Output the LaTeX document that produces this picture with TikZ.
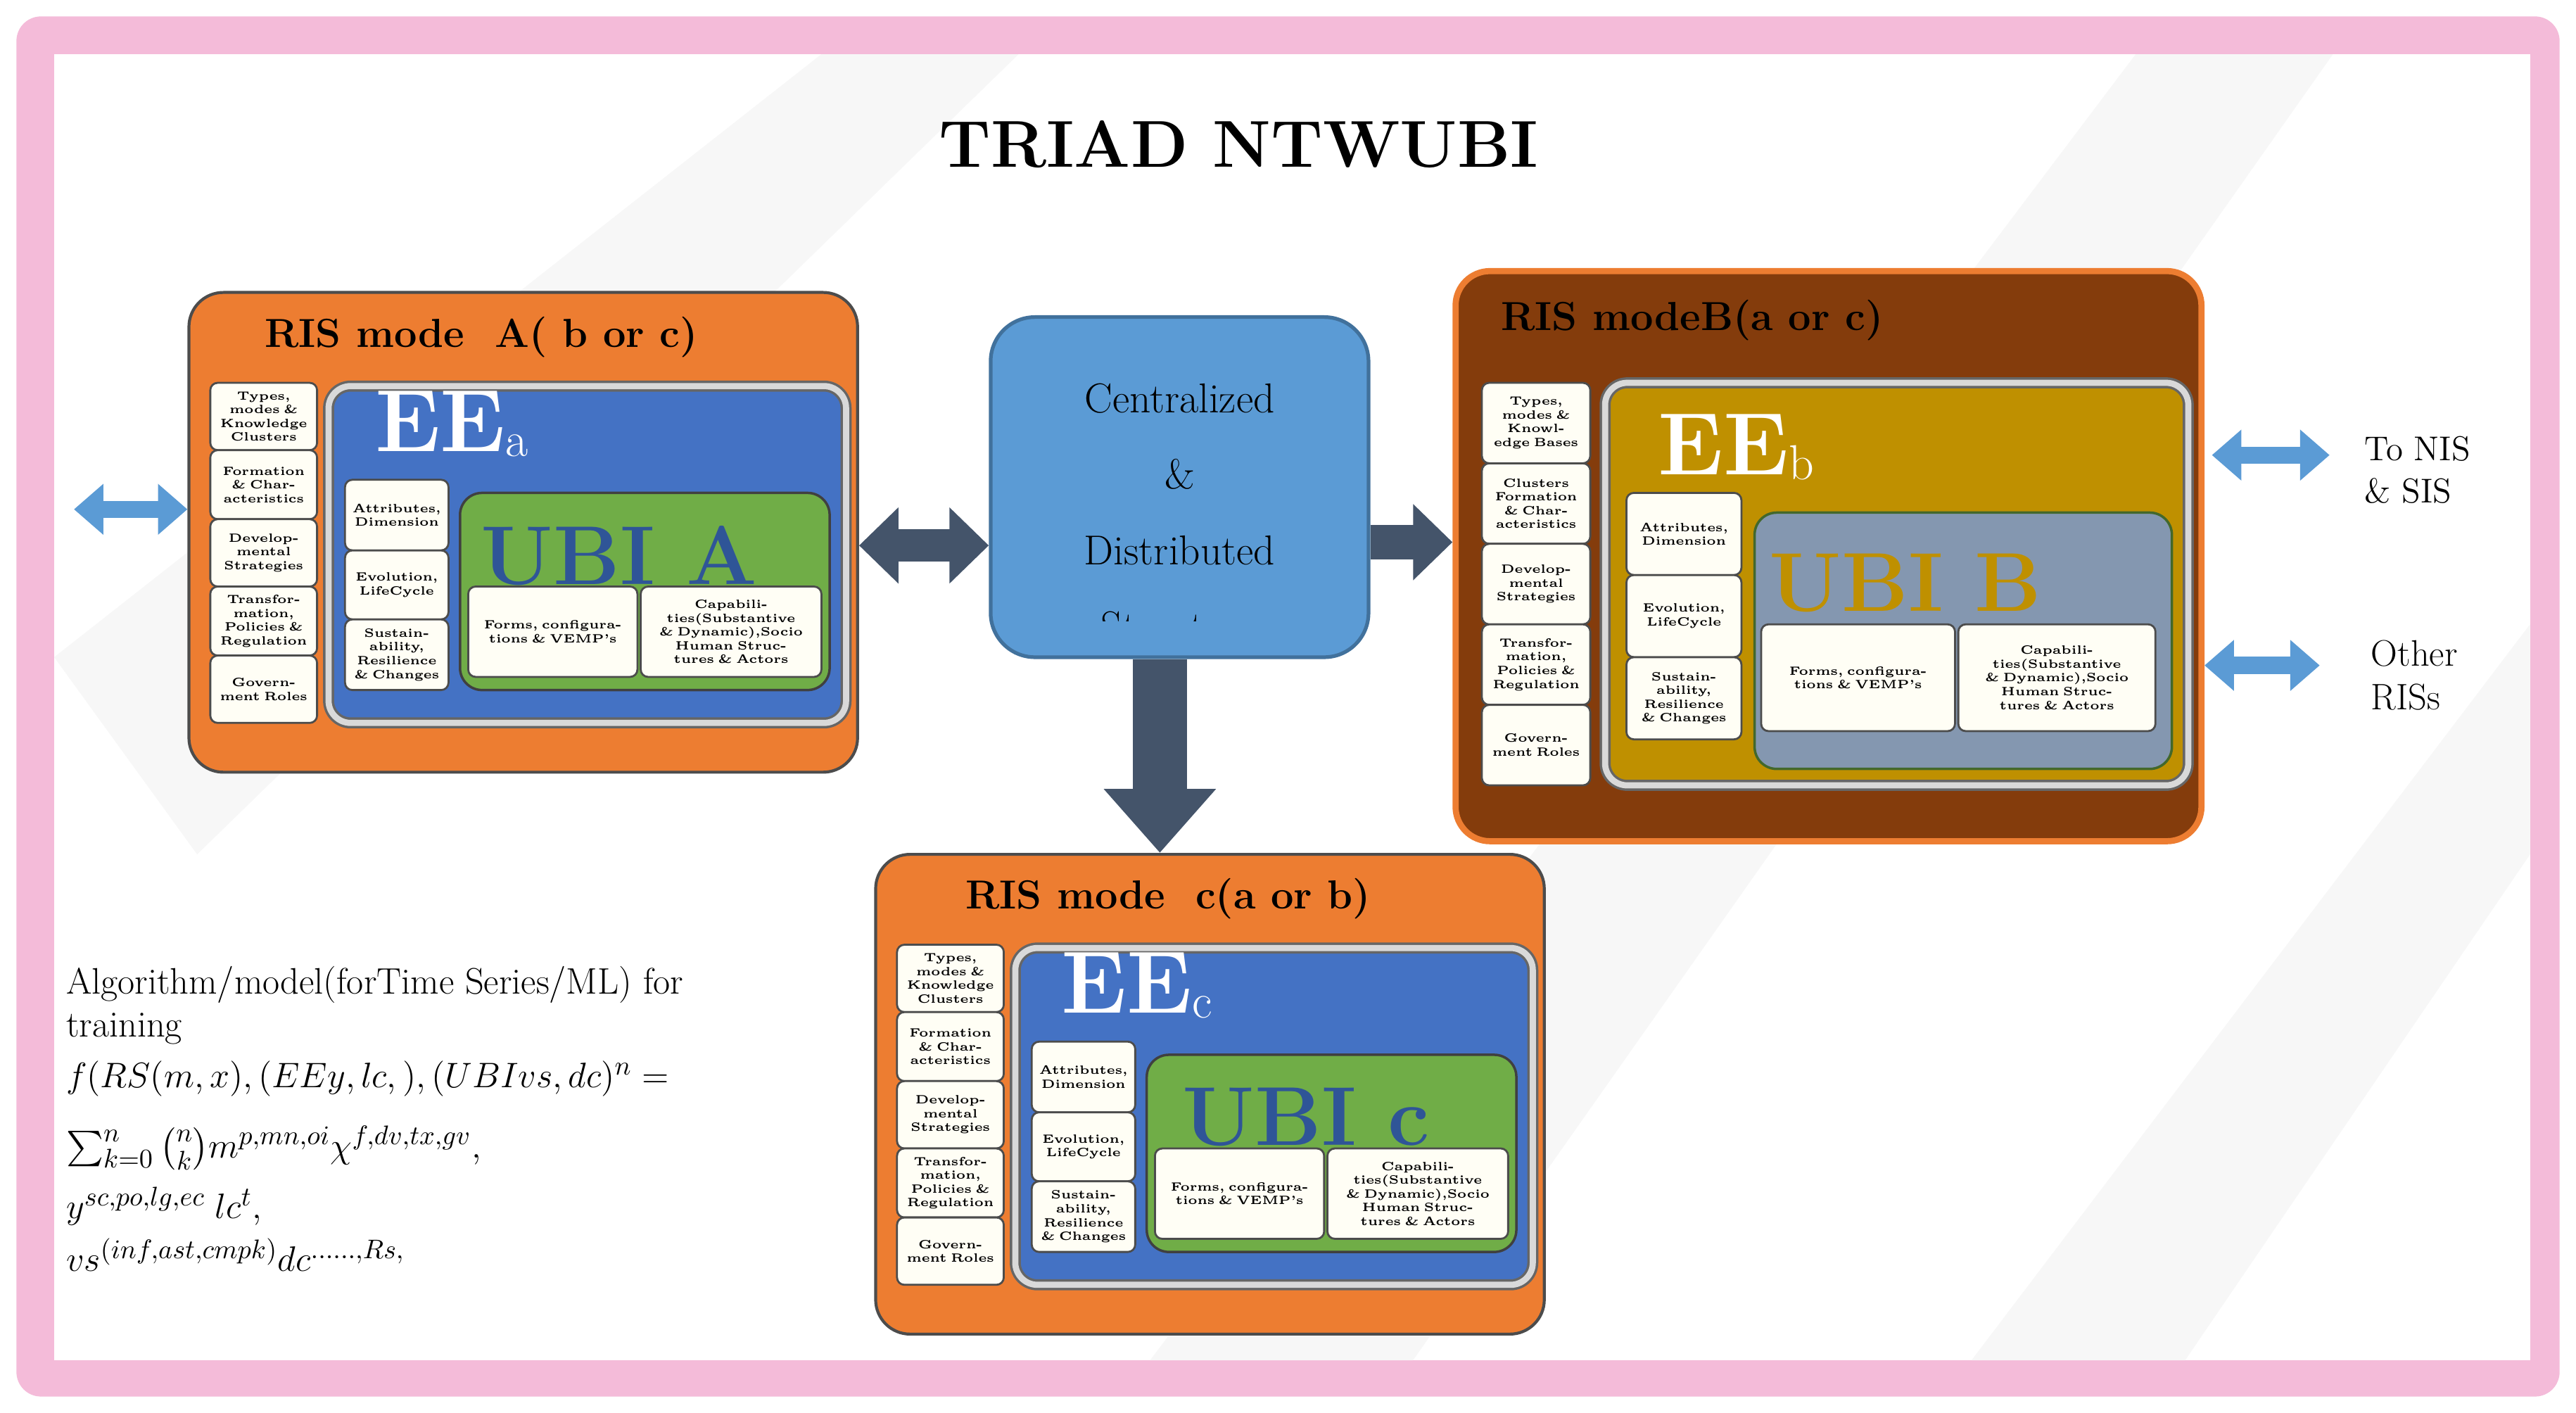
\documentclass[tikz,border=0pt]{standalone}
\usepackage{amsmath}
\usetikzlibrary{arrows.meta}
\definecolor{pinkf}{HTML}{F4BBD9}
\definecolor{orangef}{HTML}{ED7D31}
\definecolor{brownf}{HTML}{843C0C}
\definecolor{bluef}{HTML}{4472C4}
\definecolor{greenf}{HTML}{70AD47}
\definecolor{goldf}{HTML}{BF9000}
\definecolor{grayblue}{HTML}{8497B0}
\definecolor{ubiblue}{HTML}{2F5597}
\definecolor{darkarrow}{HTML}{44546A}
\definecolor{lightarrow}{HTML}{5B9BD5}
\definecolor{cenfill}{HTML}{5B9BD5}
\definecolor{cenborder}{HTML}{41719C}
\newcommand\mybox[7]{\node[#6, minimum width={(#4-#2)*0.0235cm}, minimum height={(#5-#3)*0.0235cm}, inner sep=0pt] (#1) at ({(#2+#4)/2},{(#3+#5)/2}) {\hspace{0pt}#7};}
\tikzset{
  outerA/.style={draw=black!70, line width=1.2pt, fill=orangef, rounded corners=14pt},
  outerB/.style={draw=orangef, line width=2.5pt, fill=brownf, rounded corners=14pt},
  eebox/.style={draw=black!60, line width=1pt, double=black!15, double distance=2.5pt, rounded corners=9pt},
  ubibox/.style={draw=black!75, line width=1pt, rounded corners=9pt},
  sbox/.style={draw=black!70, line width=0.8pt, fill=white!96!yellow, rounded corners=3pt, align=center, text width=38pt, font=\fontsize{4.9}{5.6}\selectfont\bfseries},
  mbox/.style={sbox, text width=40pt},
  wbox/.style={sbox, text width=64pt},
  titlef/.style={font=\fontsize{16.5}{20}\selectfont\bfseries, text=black},
  eef/.style={font=\fontsize{36}{36}\selectfont\bfseries, text=white},
  ubif/.style={font=\fontsize{34}{34}\selectfont\bfseries},
  darrow/.style={draw=darkarrow, line width=13pt},
  larrow/.style={draw=lightarrow, line width=7pt},
}
\newcommand\risAC[6]{%
\begin{scope}[shift={(#2,#3)}]
 \mybox{#1}{0}{0}{407}{292}{outerA}{}
 \node[titlef] (#1t) at (178,27) {#4};
 \mybox{#1l1}{13}{55}{78}{96}{sbox}{Types, modes \& Knowledge Clusters}
 \mybox{#1l2}{13}{96}{78}{138}{sbox}{Formation \& Characteristics}
 \mybox{#1l3}{13}{138}{78}{179}{sbox}{Developmental Strategies}
 \mybox{#1l4}{13}{179}{78}{221}{sbox}{Transformation, Policies \& Regulation}
 \mybox{#1l5}{13}{221}{78}{262}{sbox}{Government Roles}
 \mybox{#1e}{85}{57}{400}{262}{eebox, fill=bluef}{}
 \node[eef, anchor=west] (#1el) at (108,80) {EE\textmd{\fontsize{20}{20}\selectfont\raisebox{-2pt}{#5}}};
 \mybox{#1m1}{95}{114}{158}{157}{mbox}{Attributes, Dimension}
 \mybox{#1m2}{95}{157}{158}{199}{mbox}{Evolution, LifeCycle}
 \mybox{#1m3}{95}{199}{158}{242}{mbox}{Sustainability, Resilience \& Changes}
 \mybox{#1u}{165}{122}{390}{242}{ubibox, fill=greenf}{}
 \node[ubif, text=ubiblue] (#1ul) at (262,160) {#6};
 \mybox{#1w1}{170}{179}{273}{234}{wbox}{Forms, configurations \& VEMP's}
 \mybox{#1w2}{275}{179}{385}{234}{wbox}{Capabilities(Substantive \& Dynamic),Socio Human Structures \& Actors}
\end{scope}}
\begin{document}
\begin{tikzpicture}[x=0.0235cm, y=-0.0235cm]
\useasboundingbox (0,0) rectangle (1568,860);
\fill[white] (0,0) rectangle (1568,860);
\fill[pinkf, rounded corners=10pt] (10,10) rectangle (1558,850);
\fill[white] (33,33) rectangle (1540,828);
\fill[black!3] (33,400) -- (500,33) -- (620,33) -- (120,520) -- cycle;
\fill[black!3] (700,828) -- (1300,33) -- (1420,33) -- (860,828) -- cycle;
\fill[black!3] (1200,828) -- (1540,380) -- (1540,520) -- (1330,828) -- cycle;

\node[font=\fontsize{27}{30}\selectfont\bfseries] (title) at (754,88) {TRIAD NTWUBI};

% RIS A and C
\risAC{A}{115}{178}{RIS mode\ \ A( b or c)}{a}{UBI A}
\risAC{C}{533}{520}{RIS mode\ \ c(a or b)}{c}{UBI c}

% RIS B
\begin{scope}[shift={(886,165)}]
 \mybox{B}{0}{0}{454}{347}{outerB}{}
 \node[titlef] (Bt) at (144,30) {RIS modeB(a or c)};
 \mybox{Bl1}{16}{68}{82}{117}{sbox}{Types, modes \& Knowledge Bases}
 \mybox{Bl2}{16}{117}{82}{166}{sbox}{Clusters Formation \& Characteristics}
 \mybox{Bl3}{16}{166}{82}{215}{sbox}{Developmental Strategies}
 \mybox{Bl4}{16}{215}{82}{264}{sbox}{Transformation, Policies \& Regulation}
 \mybox{Bl5}{16}{264}{82}{313}{sbox}{Government Roles}
 \mybox{Be}{91}{68}{446}{313}{eebox, fill=goldf}{}
 \node[eef, anchor=west] (Bel) at (118,107) {EE\textmd{\fontsize{20}{20}\selectfont\raisebox{-2pt}{b}}};
 \mybox{Bm1}{104}{135}{174}{185}{mbox}{Attributes, Dimension}
 \mybox{Bm2}{104}{185}{174}{235}{mbox}{Evolution, LifeCycle}
 \mybox{Bm3}{104}{235}{174}{285}{mbox}{Sustainability, Resilience \& Changes}
 \mybox{Bu}{182}{147}{436}{303}{ubibox, draw=greenf!60!black, fill=grayblue}{}
 \node[ubif, text=goldf] (Bul) at (274,190) {UBI B};
 \mybox{Bw1}{186}{215}{304}{280}{wbox, text width=70pt}{Forms, configurations \& VEMP's}
 \mybox{Bw2}{306}{215}{426}{280}{wbox, text width=72pt}{Capabilities(Substantive \& Dynamic),Socio Human Structures \& Actors}
\end{scope}

% Central box
\mybox{cen}{603}{193}{833}{400}{draw=cenborder, line width=1.5pt, fill=cenfill, rounded corners=18pt}{}
\begin{scope}
 \clip (605,195) rectangle (831,378);
 \node[font=\fontsize{17}{31}\selectfont, align=center, anchor=north] (cent) at (718,228) {Centralized\\\&\\Distributed\\Structure};
\end{scope}

% connectors
\coordinate (ac) at (0,332);
\coordinate (la) at (45,310);
\coordinate (bc) at (0,330);
\coordinate (dn) at (706,0);
\coordinate (r1) at (1418,277);
\coordinate (r2) at (1412,405);
\draw[darrow, {Triangle[width=30pt,length=16pt]}-{Triangle[width=30pt,length=16pt]}] (A.east |- ac) -- (cen.west |- ac);
\draw[darrow, line width=14pt, -{Triangle[width=30pt,length=16pt]}] (cen.east |- bc) -- (B.west |- bc);
\draw[darrow, line width=22pt, -{Triangle[width=44pt,length=26pt]}] (cen.south -| dn) -- (C.north -| dn);
\draw[larrow, {Triangle[width=20pt,length=12pt]}-{Triangle[width=20pt,length=12pt]}] (la) -- (A.west |- la);
\draw[larrow, {Triangle[width=20pt,length=12pt]}-{Triangle[width=20pt,length=12pt]}] ([xshift=3pt]B.east |- r1) -- (r1);
\draw[larrow, {Triangle[width=20pt,length=12pt]}-{Triangle[width=20pt,length=12pt]}] (B.east |- r2) -- (r2);
\node[font=\fontsize{14}{17}\selectfont, align=left, anchor=west] (nis) at (1434,286) {To NIS\\\& SIS};
\node[font=\fontsize{15}{18}\selectfont, align=left, anchor=west] (oth) at (1438,411) {Other\\RISs};

% formula
\node[anchor=north west, align=left, font=\fontsize{15}{17.5}\selectfont, inner sep=0pt] (alg) at (40,588)
 {Algorithm/model(forTime Series/ML) for\\ training\\[3pt]
 $f(RS(m,x),(EEy,lc,),(UBIvs,dc)^n=$\\[11pt]
 $\sum_{k=0}^{n}\binom{n}{k}m^{p,mn,oi}\chi^{f,dv,tx,gv},$\\[6pt]
 $y^{sc,po,lg,ec}\;lc^t,$\\[4pt]
 $vs^{(inf,ast,cmpk)}dc^{\dots\dots,Rs,}$};
\end{tikzpicture}
\end{document}
